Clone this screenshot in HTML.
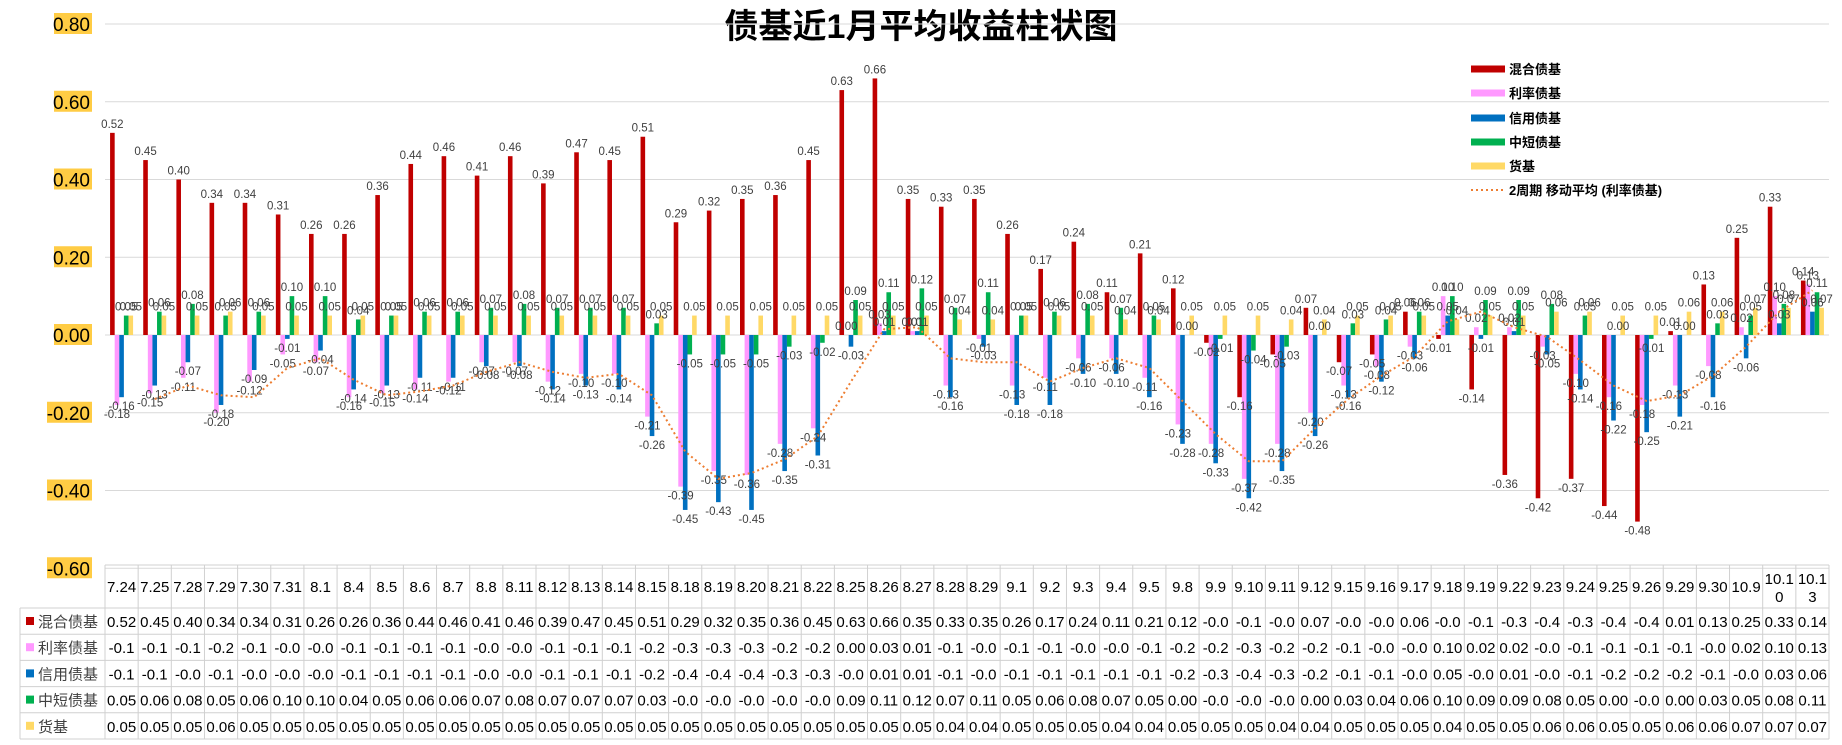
<!DOCTYPE html>
<html><head><meta charset="utf-8"><style>
html,body{margin:0;padding:0;background:#fff;}
svg{display:block;font-family:"Liberation Sans","Noto Sans CJK SC",sans-serif;}
</style></head><body>
<svg id="chart" width="1842" height="745" viewBox="0 0 1842 745" xmlns="http://www.w3.org/2000/svg">
<text x="921" y="38" text-anchor="middle" font-size="34" font-weight="bold" fill="#000" font-family="'Liberation Sans','Noto Sans CJK SC',sans-serif">债基近1月平均收益柱状图</text>
<g id="grid"></g>
<g id="yaxis"></g>
<g id="bars"></g>
<g id="labels"></g>
<g id="ma"></g>
<g id="legend"></g>
<g id="table"></g>
</svg>
<script>
const categories=["7.24","7.25","7.28","7.29","7.30","7.31","8.1","8.4","8.5","8.6","8.7","8.8","8.11","8.12","8.13","8.14","8.15","8.18","8.19","8.20","8.21","8.22","8.25","8.26","8.27","8.28","8.29","9.1","9.2","9.3","9.4","9.5","9.8","9.9","9.10","9.11","9.12","9.15","9.16","9.17","9.18","9.19","9.22","9.23","9.24","9.25","9.26","9.29","9.30","10.9","10.10","10.13"];
const hunhe=[0.52,0.45,0.40,0.34,0.34,0.31,0.26,0.26,0.36,0.44,0.46,0.41,0.46,0.39,0.47,0.45,0.51,0.29,0.32,0.35,0.36,0.45,0.63,0.66,0.35,0.33,0.35,0.26,0.17,0.24,0.11,0.21,0.12,-0.02,-0.16,-0.05,0.07,-0.07,-0.05,0.06,-0.01,-0.14,-0.36,-0.42,-0.37,-0.44,-0.48,0.01,0.13,0.25,0.33,0.14];
const lilv=[-0.18,-0.15,-0.11,-0.20,-0.12,-0.05,-0.07,-0.16,-0.15,-0.14,-0.12,-0.07,-0.07,-0.12,-0.10,-0.10,-0.21,-0.39,-0.35,-0.36,-0.28,-0.24,0.00,0.03,0.01,-0.13,-0.01,-0.13,-0.11,-0.06,-0.06,-0.11,-0.23,-0.28,-0.37,-0.28,-0.20,-0.13,-0.08,-0.03,0.10,0.02,0.02,-0.03,-0.10,-0.16,-0.18,-0.13,-0.08,0.02,0.10,0.13];
const xinyong=[-0.16,-0.13,-0.07,-0.18,-0.09,-0.01,-0.04,-0.14,-0.13,-0.11,-0.11,-0.08,-0.08,-0.14,-0.13,-0.14,-0.26,-0.45,-0.43,-0.45,-0.35,-0.31,-0.03,0.01,0.01,-0.16,-0.03,-0.18,-0.18,-0.10,-0.10,-0.16,-0.28,-0.33,-0.42,-0.35,-0.26,-0.16,-0.12,-0.06,0.05,-0.01,0.01,-0.05,-0.14,-0.22,-0.25,-0.21,-0.16,-0.06,0.03,0.06];
const zhongduan=[0.05,0.06,0.08,0.05,0.06,0.10,0.10,0.04,0.05,0.06,0.06,0.07,0.08,0.07,0.07,0.07,0.03,-0.05,-0.05,-0.05,-0.03,-0.02,0.09,0.11,0.12,0.07,0.11,0.05,0.06,0.08,0.07,0.05,0.00,-0.01,-0.04,-0.03,0.00,0.03,0.04,0.06,0.10,0.09,0.09,0.08,0.05,0.00,-0.01,0.00,0.03,0.05,0.08,0.11];
const huobi=[0.05,0.05,0.05,0.06,0.05,0.05,0.05,0.05,0.05,0.05,0.05,0.05,0.05,0.05,0.05,0.05,0.05,0.05,0.05,0.05,0.05,0.05,0.05,0.05,0.05,0.04,0.04,0.05,0.05,0.05,0.04,0.04,0.05,0.05,0.05,0.04,0.04,0.05,0.05,0.05,0.04,0.05,0.05,0.06,0.06,0.05,0.05,0.06,0.06,0.07,0.07,0.07];
const seriesNames=["混合债基","利率债基","信用债基","中短债基","货基"];
const yTicks=[0.8,0.6,0.4,0.2,0,-0.2,-0.4,-0.6];

const NS="http://www.w3.org/2000/svg";
const series=[hunhe,lilv,xinyong,zhongduan,huobi];
const colors=["#C00000","#FF99FF","#0070C0","#00B050","#FFD966"];
const X0=105,X1=1829,Y0v=0.8,Ytop=24,Yzero=335;
const pxPer=(Yzero-Ytop)/Y0v;
const bw=(X1-X0)/categories.length;
function yScale(v){return Yzero-v*pxPer;}
function xCat(i){return X0+i*bw;}
function mk(tag,attrs,parent){const e=document.createElementNS(NS,tag);for(const k in attrs)e.setAttribute(k,attrs[k]);parent.appendChild(e);return e;}
const g=id=>document.getElementById(id);

yTicks.forEach(t=>{
  const y=yScale(t);
  const l=mk('line',{x1:X0,x2:X1,y1:y,y2:y,stroke:'#d9d9d9','stroke-width':1},g('grid'));
  
  
  const s=t.toFixed(2);
  const w=s.length>4?45:38;
  const r=mk('rect',{x:90-w+2,y:y-11,width:w,height:21,fill:'#FFCC44'},g('yaxis'));
  
  
  const tx=mk('text',{x:90,y:y+7,'text-anchor':'end','font-size':19,fill:'#000'},g('yaxis'));
  tx.textContent=s;
  
  
});

const barW=4.6, groupW=barW*5;
categories.forEach((c,i)=>{
  const start=xCat(i)+(bw-groupW)/2;
  series.forEach((arr,s)=>{
    const v=arr[i];
    const x=start+s*barW;
    const y1=yScale(Math.max(v,0)),y2=yScale(Math.min(v,0));
    const r=mk('rect',{x:x,y:y1,width:barW,height:Math.max(y2-y1,0.01),fill:colors[s]},g('bars'));
    
    
    const lt=mk('text',{x:x+barW/2,y:v>=0?yScale(v)-5:yScale(v)+13,'text-anchor':'middle','font-size':11.5,fill:'#404040'},g('labels'));
    lt.textContent=v.toFixed(2);
    
    
  });
});

let pts=[];
for(let i=1;i<categories.length;i++){
  const m=(lilv[i]+lilv[i-1])/2;
  pts.push((xCat(i)+bw/2).toFixed(1)+','+yScale(m).toFixed(1));
}
const pl=mk('polyline',{points:pts.join(' '),fill:'none',stroke:'#ED7D31','stroke-width':2,'stroke-dasharray':'2 3'},g('ma'));



const legY=[69,93,118,142,166];
seriesNames.forEach((n,s)=>{
  const r=mk('rect',{x:1471,y:legY[s]-3.5,width:34,height:7,fill:colors[s]},g('legend'));
  
  
  const t=mk('text',{x:1509,y:legY[s]+5,'font-size':13,'font-weight':'bold',fill:'#000'},g('legend'));
  t.textContent=n;
  
  
});
const ml=mk('line',{x1:1471,x2:1505,y1:190,y2:190,stroke:'#ED7D31','stroke-width':2,'stroke-dasharray':'2 3'},g('legend'));


const mt=mk('text',{x:1509,y:195,'font-size':13,'font-weight':'bold',fill:'#000'},g('legend'));
mt.textContent='2周期 移动平均 (利率债基)';



const T=g('table');
const tTop=565,hBot=608,rowH=26.2,tBot=hBot+rowH*5,LX=20;
const lineC='#d0d0d0';
function ln(x1,y1,x2,y2){const l=mk('line',{x1,y1,x2,y2,stroke:lineC,'stroke-width':1},T);}
ln(X0,tTop,X1,tTop);
for(let r=0;r<=5;r++){const y=hBot+r*rowH;ln(LX,y,X1,y);}
ln(LX,hBot,LX,tBot);
for(let i=0;i<=categories.length;i++){ln(xCat(i),tTop,xCat(i),tBot);}
categories.forEach((c,i)=>{
  const cx=xCat(i)+bw/2;
  const t=mk('text',{'text-anchor':'middle','font-size':15,fill:'#000'},T);
  
  
  if(c.length>4){
    const a=mk('tspan',{x:cx,y:tTop+19},t);a.textContent=c.slice(0,4);
    const b=mk('tspan',{x:cx,y:tTop+37},t);b.textContent=c.slice(4);
  } else {t.setAttribute('x',cx);t.setAttribute('y',tTop+27);t.textContent=c;}
});
function fmt(v){const s=v.toFixed(2);return v<0?s.slice(0,4):s;}
seriesNames.forEach((n,s)=>{
  const y=hBot+s*rowH;
  const sq=mk('rect',{x:26,y:y+9,width:8,height:8,fill:colors[s]},T);
  
  
  const nt=mk('text',{x:38,y:y+19,'font-size':15,fill:'#404040'},T);
  nt.textContent=n;
  
  
  series[s].forEach((v,i)=>{
    const ct=mk('text',{x:xCat(i)+bw/2,y:y+19,'text-anchor':'middle','font-size':15,fill:'#000'},T);
    ct.textContent=fmt(v);
    
    
  });
});
</script>
</body></html>
